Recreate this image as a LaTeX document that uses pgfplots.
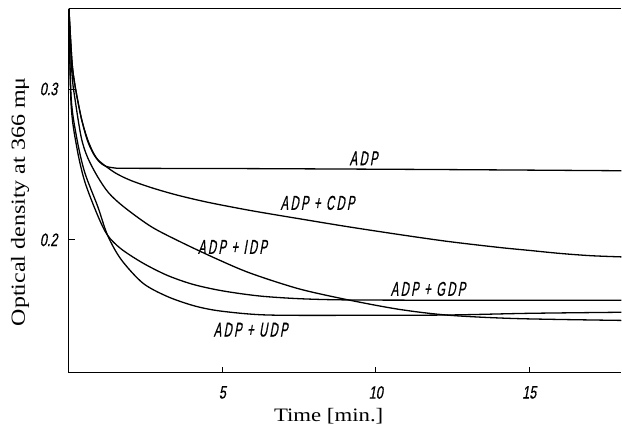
\documentclass[border=0pt]{standalone}
\usepackage{fontspec}
\setmainfont{Liberation Serif}
\newfontfamily\lblfont[FakeSlant=0.18,FakeStretch=0.56,LetterSpace=12,FakeBold=0.6]{Liberation Sans}
\newfontfamily\tickfont[FakeSlant=0.18,FakeStretch=0.7,FakeBold=0.6]{Liberation Sans}
\newfontfamily\axfont[FakeStretch=1.2]{Liberation Serif}
\usepackage{pgfplots}
\pgfplotsset{compat=1.18}
\tikzset{lbl/.style={font=\lblfont\fontsize{20}{21}\selectfont, inner sep=0pt}}

\begin{document}
\begin{tikzpicture}
\begin{axis}[
  scale only axis, width=553pt, height=364pt,
  xmin=0, xmax=18, ymin=0.112, ymax=0.353,
  axis lines*=left,
  axis line style={line width=1pt},
  clip=false,
  tick align=inside,
  major tick length=6pt,
  tick style={line width=0.8pt, black},
  xtick={5,10,15}, ytick={0.2,0.3},
  xticklabels={5,10,15}, yticklabels={0.2,0.3},
  tick label style={font=\tickfont\fontsize{18}{19}\selectfont},
  yticklabel style={xshift=-8pt},
  xticklabel style={yshift=-10pt},
  xlabel={Time [min.]},
  ylabel={Optical density at 366 mμ},
  every axis x label/.style={at={([xshift=-16.5pt,yshift=-44pt]axis description cs:0.5,0)}, anchor=center, font=\axfont\fontsize{19}{20}\selectfont},
  every axis y label/.style={at={([xshift=-49pt,yshift=-11pt]axis description cs:0,0.5)}, rotate=90, anchor=center, font=\axfont\fontsize{20}{21}\selectfont},
]
% ADP
\addplot[black, line width=1.3pt, smooth, tension=0.5] coordinates {
 (0,0.353) (0.1,0.318) (0.2,0.302) (0.4,0.281) (0.6,0.266) (0.8,0.257)
 (1.0,0.2515) (1.2,0.2488) (1.5,0.2476) (2,0.2474) (6,0.2472) (12,0.2466) (18,0.2458)
};
% ADP + CDP
\addplot[black, line width=1.3pt, smooth, tension=0.5] coordinates {
 (0,0.353) (0.1,0.318) (0.2,0.302) (0.4,0.281) (0.6,0.267) (0.8,0.2575)
 (1.0,0.252) (1.5,0.2445) (2.0,0.2395) (2.7,0.2345) (3.5,0.2298) (4.5,0.2250)
 (5.9,0.2195) (7.5,0.2140) (9.15,0.2085) (11,0.2028) (12.4,0.1988) (14,0.1950)
 (15,0.1930) (16,0.1910) (17,0.1895) (18,0.1887)
};
% ADP + IDP
\addplot[black, line width=1.3pt, smooth, tension=0.5] coordinates {
 (0,0.353) (0.1,0.31) (0.2,0.293) (0.4,0.268) (0.6,0.255) (0.93,0.242)
 (1.3,0.231) (1.81,0.2215) (2.7,0.2085) (3.7,0.198) (4.8,0.1875) (5.9,0.178)
 (7.5,0.1675) (9.15,0.160) (10.8,0.1538) (12.4,0.1500) (14.6,0.1478) (18,0.1466)
};
% ADP + GDP
\addplot[black, line width=1.3pt, smooth, tension=0.5] coordinates {
 (0,0.353) (0.07,0.29) (0.25,0.262) (0.51,0.239) (0.94,0.216) (1.26,0.203)
 (1.7,0.194) (2.41,0.1846) (3.2,0.1765) (4.04,0.1705) (5,0.1662) (6.2,0.1628)
 (7.5,0.1610) (9,0.1602) (12,0.160) (18,0.160)
};
% ADP + UDP
\addplot[black, line width=1.3pt, smooth, tension=0.5] coordinates {
 (0,0.353) (0.07,0.295) (0.25,0.268) (0.51,0.245) (0.94,0.222) (1.26,0.203)
 (1.7,0.187) (2.41,0.1713) (3.2,0.1625) (4.04,0.1565) (4.8,0.1532) (5.9,0.1508)
 (7,0.1500) (10,0.1500) (12.4,0.1502) (15,0.1513) (18,0.152)
};
\draw[line width=1pt] (rel axis cs:0,1) -- (rel axis cs:1,1);
\node[lbl] at (axis cs:9.6,0.254) {ADP};
\node[lbl] at (axis cs:8.1,0.2245) {ADP + CDP};
\node[lbl] at (axis cs:5.33,0.1953) {ADP + IDP};
\node[lbl] at (axis cs:11.7,0.1675) {ADP + GDP};
\node[lbl] at (axis cs:5.92,0.1404) {ADP + UDP};
\end{axis}
\path ([xshift=-69pt,yshift=-56pt]current axis.south west) rectangle ([yshift=9pt]current axis.north east);
\end{tikzpicture}
\end{document}
